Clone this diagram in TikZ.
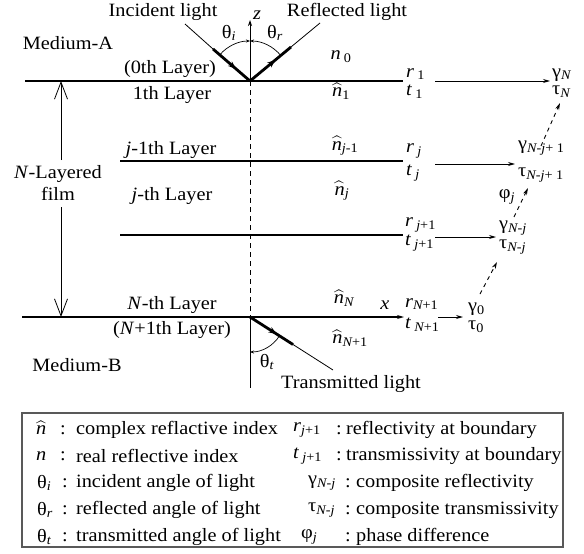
\documentclass[tikz,border=0pt]{standalone}
\usepackage{exscale}
\usepackage{fontspec}
\setmainfont{Liberation Serif}[FakeStretch=1.08]
\usetikzlibrary{arrows.meta,decorations.markings}
\newcommand\sbs[1]{\textsubscript{#1}}
\newcommand\nh{$\widehat{\mbox{\itshape n}}$}
\begin{document}
\begin{tikzpicture}[x=1pt,y=-1pt,
  font=\fontsize{18.8}{21.5}\selectfont,
  every node/.style={inner sep=0pt},
  ln/.style={line width=1.1pt},
  thinln/.style={line width=0.8pt},
  ray/.style={line width=2.8pt,postaction={decorate},
    decoration={markings,mark=at position 0.62 with {\arrow{Stealth[length=8pt,width=6pt]}}}},
  angarc/.style={line width=0.7pt,-{Stealth[length=4pt,width=3pt]}},
  harr/.style={line width=0.9pt,-{Stealth[length=7pt,width=4pt]}},
  darr/.style={line width=0.9pt,dashed,dash pattern=on 4pt off 4pt,-{Stealth[length=7pt,width=4pt]}},
  barb/.style={line width=0.8pt,-{Straight Barb[length=17pt,width=13pt]}},
]
\useasboundingbox (0,0) rectangle (584,554);

% ---- coordinates
\coordinate (O) at (250,81);
\coordinate (B) at (250,317);
\coordinate (zt) at (250,20);
\coordinate (vb) at (250,388);
\coordinate (L1a) at (25,81);   \coordinate (L1b) at (403,81);
\coordinate (L2a) at (120,161); \coordinate (L2b) at (403,161);
\coordinate (L3a) at (120,235); \coordinate (L3b) at (403,235);
\coordinate (L4a) at (22,317);  \coordinate (L4b) at (404,317);
\coordinate (incS) at (185,24); \coordinate (incT) at (213,49);
\coordinate (refE) at (320,23); \coordinate (refT) at (291,47);
\coordinate (trE) at (333,370); \coordinate (trT) at (293,344.5);
\coordinate (fA) at (61,160); \coordinate (fAt) at (61,81);
\coordinate (fB) at (61,207); \coordinate (fBt) at (61,317);

% ---- layer lines
\draw[ln] (L1a) -- (L1b);
\draw[ln] (L2a) -- (L2b);
\draw[ln] (L3a) -- (L3b);
\draw[ln,-{Stealth[length=7pt,width=4pt]}] (L4a) -- (L4b);

% ---- vertical axis
\draw[thinln,-{Stealth[length=6pt,width=4pt]}] (O) -- (zt);
\draw[thinln,dashed,dash pattern=on 5pt off 4pt] (O) -- (B);
\draw[thinln] (B) -- (vb);

% ---- light rays
\draw[thinln] (incS) -- (incT);
\draw[ray] (incT) -- (O);
\draw[ray] (O) -- (refT);
\draw[thinln] (refT) -- (refE);
\draw[ray] (B) -- (trT);
\draw[thinln] (trT) -- (trE);

% ---- angle arcs
\draw[angarc] (O) ++(-138.8:40) arc[start angle=-138.8,end angle=-90,radius=40];
\draw[angarc] (O) ++(-39.6:40) arc[start angle=-39.6,end angle=-90,radius=40];
\draw[angarc] (B) ++(32.6:35) arc[start angle=32.6,end angle=90,radius=35];

% ---- film arrows
\draw[barb] (fA) -- (fAt);
\draw[barb] (fB) -- (fBt);

% ---- labels
\node (inc) at (163,12) {Incident light};
\node (refl) at (347,12) {Reflected light};
\node (zl) at (257,15) {\itshape z};
\node (thi) at (229,33) {θ\sbs{\itshape i}};
\node (thr) at (275,33) {θ\sbs{\itshape r}};
\node (thtl) at (267,362) {θ\sbs{\itshape t}};
\node (medA) at (68,43) {Medium-A};
\node (medB) at (77,365) {Medium-B};
\node (l0) at (170,69) {(0th Layer)};
\node (l1) at (172,95) {1th Layer};
\node (ljm) at (171,150) {\textit{j}-1th Layer};
\node (lj) at (172,196) {\textit{j}-th Layer};
\node (lN) at (172,305) {\textit{N}-th Layer};
\node (lN1) at (172,330) {(\textit{N}+1th Layer)};
\node[align=center] (film) at (58,183) {\textit{N}-Layered\\film};
\node (trans) at (351,384) {Transmitted light};

\node (n0) at (341,57) {\textit{n}\,\sbs{0}};
\node (n1) at (341,91) {\nh\sbs{1}};
\node (nj1) at (345,146) {\nh\sbs{\itshape j\upshape-1}};
\node (nj) at (342,191) {\nh\sbs{\itshape j}};
\node (nN) at (344,298) {\nh\sbs{\itshape N}};
\node (nN1) at (350,338) {\nh\sbs{\itshape N\upshape+1}};
\node (xl) at (385,305) {\itshape x};

\node[anchor=west] (r1) at (406,74) {\textit{r}\,\sbs{1}};
\node[anchor=west] (t1) at (406,92) {\textit{t}\,\sbs{1}};
\node[anchor=west] (rj) at (406,151) {\textit{r}\,\sbs{\itshape j}};
\node[anchor=west] (tj) at (406,173) {\textit{t}\,\sbs{\itshape j}};
\node[anchor=west] (rj1) at (405,225) {\textit{r}\,\sbs{\itshape j\upshape+1}};
\node[anchor=west] (tj1) at (405,243) {\textit{t}\,\sbs{\itshape j\upshape+1}};
\node[anchor=west] (rN1) at (405,304) {\textit{r}\sbs{\itshape N\upshape+1}};
\node[anchor=west] (tN1) at (405,325) {\textit{t}\,\sbs{\itshape N\upshape+1}};

\node[anchor=west] (gN) at (552,75) {γ\sbs{\itshape N}};
\node[anchor=west] (tauN) at (552,92) {τ\sbs{\itshape N}};
\node[anchor=west] (gNj1) at (518,148) {γ\sbs{\itshape N-j\upshape+ 1}};
\node[anchor=west] (tNj1) at (518,175) {τ\sbs{\itshape N-j\upshape+ 1}};
\node (phij) at (507,197) {φ\sbs{\itshape j}};
\node[anchor=west] (gNj) at (499,228) {γ\sbs{\itshape N-j}};
\node[anchor=west] (tNj) at (499,247) {τ\sbs{\itshape N-j}};
\node[anchor=west] (g0) at (468,309) {γ\sbs{0}};
\node[anchor=west] (tau0) at (468,327) {τ\sbs{0}};

% ---- horizontal arrows
\coordinate (h1s) at (435,81);  \coordinate (h1e) at (550,81);
\coordinate (h2s) at (435,164); \coordinate (h2e) at (515,164);
\coordinate (h3s) at (435,237); \coordinate (h3e) at (496,237);
\coordinate (h4s) at (438,317); \coordinate (h4e) at (463,317);
\draw[harr] (h1s) -- (h1e);
\draw[harr] (h2s) -- (h2e);
\draw[harr] (h3s) -- (h3e);
\draw[harr] (h4s) -- (h4e);

% ---- dashed arrows
\coordinate (d1s) at (480,294); \coordinate (d1e) at (497,262);
\coordinate (d2s) at (514,217); \coordinate (d2e) at (528,188);
\coordinate (d3s) at (541,146); \coordinate (d3e) at (560,103);
\draw[darr] (d1s) -- (d1e);
\draw[darr] (d2s) -- (d2e);
\draw[darr] (d3s) -- (d3e);

% ---- legend
\draw[line width=1.2pt,draw=black!65] (22,413) rectangle (563,547);
\node[anchor=west] (s1) at (36,428) {\nh};
\node[anchor=west] (s2) at (36,456) {\itshape n};
\node[anchor=west] (s3) at (37,483) {θ\sbs{\itshape i}};
\node[anchor=west] (s4) at (37,510) {θ\sbs{\itshape r}};
\node[anchor=west] (s5) at (37,537) {θ\sbs{\itshape t}};
\node (c1) at (63,430) {:};
\node (c2) at (63,456) {:};
\node (c3) at (65,483) {:};
\node (c4) at (65,510) {:};
\node (c5) at (65,537) {:};
\node[anchor=west] (e1) at (76,430) {complex reflactive index};
\node[anchor=west] (e2) at (76,456) {real reflective index};
\node[anchor=west] (e3) at (76,483) {incident angle of light};
\node[anchor=west] (e4) at (76,510) {reflected angle of light};
\node[anchor=west] (e5) at (76,537) {transmitted angle of light};

\node[anchor=west] (q1) at (293,430) {\textit{r}\sbs{\itshape j\upshape+1}};
\node[anchor=west] (q2) at (293,456) {\textit{t}\,\sbs{\itshape j\upshape+1}};
\node[anchor=west] (q3) at (308,483) {γ\sbs{\itshape N-j}};
\node[anchor=west] (q4) at (308,510) {τ\sbs{\itshape N-j}};
\node[anchor=west] (q5) at (301,537) {φ\sbs{\itshape j}};
\node (k1) at (339,430) {:};
\node (k2) at (339,456) {:};
\node (k3) at (348,483) {:};
\node (k4) at (348,510) {:};
\node (k5) at (348,537) {:};
\node[anchor=west] (f1) at (346,430) {reflectivity at boundary};
\node[anchor=west] (f2) at (346,456) {transmissivity at boundary};
\node[anchor=west] (f3) at (356,483) {composite reflectivity};
\node[anchor=west] (f4) at (356,510) {composite transmissivity};
\node[anchor=west] (f5) at (356,537) {phase difference};
\end{tikzpicture}
\end{document}
